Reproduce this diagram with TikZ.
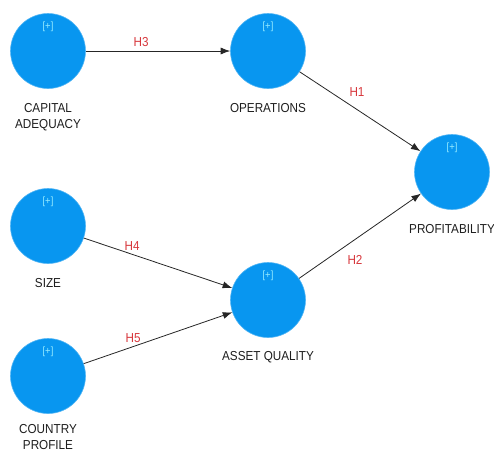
\documentclass[tikz,border=0pt]{standalone}
\usepackage{fontspec}
\setmainfont{Liberation Sans}[FakeStretch=0.9]
\usetikzlibrary{arrows.meta}
\definecolor{lvblue}{RGB}{8,150,240}
\definecolor{plusc}{RGB}{150,235,255}
\definecolor{hred}{RGB}{215,55,60}
\definecolor{txt}{RGB}{30,30,30}
\tikzset{
  lv/.style={circle, fill=lvblue, draw=lvblue!70!white, line width=0.6pt, minimum size=75pt, inner sep=0pt},
  plus/.style={font=\fontsize{10.5}{11}\selectfont, text=plusc, inner sep=0pt},
  nm/.style={font=\fontsize{13}{16}\selectfont, text=txt, align=center, inner sep=0pt, anchor=north},
  lbl/.style={font=\fontsize{13}{14}\selectfont, text=hred, inner sep=0pt},
  conn/.style={draw=black!85, line width=0.8pt, -{Latex[length=9.5pt,width=7pt]}}
}
\begin{document}
\begin{tikzpicture}[x=1pt,y=-1pt]
\useasboundingbox (0,0) rectangle (494,451);
\node[lv] (ca) at (48,51) {};
\node[lv] (op) at (268,51) {};
\node[lv] (pr) at (452,172) {};
\node[lv] (sz) at (48,226) {};
\node[lv] (aq) at (268,300) {};
\node[lv] (cp) at (48,376) {};
\foreach \n in {ca,op,pr,sz,aq,cp} {
  \node[plus] (\n-plus) at ([yshift=24pt]\n.center) {[+]};
}
\node[nm] (ca-name) at ([yshift=-52pt]ca.center) {CAPITAL\\ADEQUACY};
\node[nm] (op-name) at ([yshift=-52pt]op.center) {OPERATIONS};
\node[nm] (pr-name) at ([yshift=-52pt]pr.center) {PROFITABILITY};
\node[nm] (sz-name) at ([yshift=-52pt]sz.center) {SIZE};
\node[nm] (aq-name) at ([yshift=-51pt]aq.center) {ASSET QUALITY};
\node[nm] (cp-name) at ([yshift=-48pt]cp.center) {COUNTRY\\PROFILE};
\draw[conn] (ca) -- node[lbl, pos=0.383, yshift=9pt] (h3) {H3} (op);
\draw[conn] (op) -- node[lbl, pos=0.475, yshift=17.5pt] (h1) {H1} (pr);
\draw[conn] (aq) -- node[lbl, pos=0.459, yshift=-20.5pt] (h2) {H2} (pr);
\draw[conn] (sz) -- node[lbl, pos=0.326, yshift=8.5pt] (h4) {H4} (aq);
\draw[conn] (cp) -- node[lbl, pos=0.332, yshift=8.7pt] (h5) {H5} (aq);
\end{tikzpicture}
\end{document}
